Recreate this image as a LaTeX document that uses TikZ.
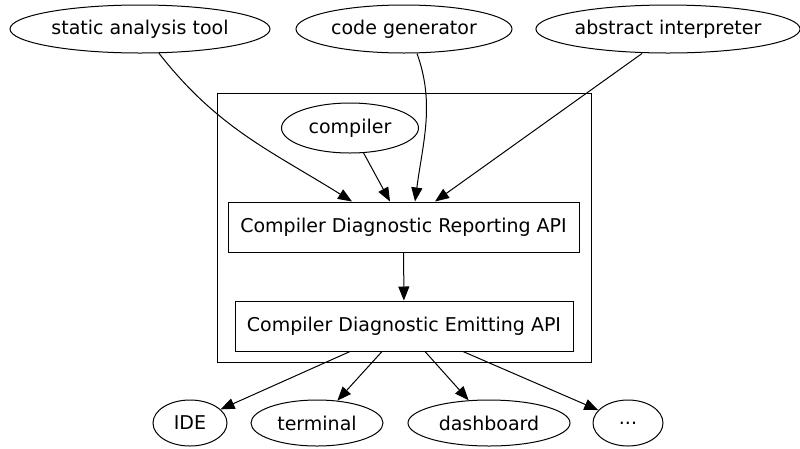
\documentclass[tikz,border=0pt]{standalone}
\usepackage{fontspec}
\setmainfont{DejaVu Sans}
\usetikzlibrary{arrows.meta,shapes.geometric}
\tikzset{
  oval/.style={draw, ellipse, inner sep=0pt, line width=1pt, font=\fontsize{19}{22}\selectfont},
  apibox/.style={draw, rectangle, inner sep=0pt, line width=1pt, font=\fontsize{19}{22}\selectfont},
  cluster/.style={draw, line width=1pt},
  edge/.style={line width=1pt, -{Triangle[length=14pt,width=11pt]}},
}
\begin{document}
\begin{tikzpicture}[x=1pt,y=-1pt]
\useasboundingbox (0,0) rectangle (800,448);
% enclosing cluster
\draw[cluster] (217,93) rectangle (591,362);
% sources
\node[oval, minimum width=260, minimum height=48] (sat) at (140,29) {static analysis tool};
\node[oval, minimum width=216, minimum height=48] (cg) at (404,29) {code generator};
\node[oval, minimum width=262, minimum height=48] (ai) at (668,29) {abstract interpreter};
\node[oval, minimum width=137, minimum height=50] (comp) at (350,128) {compiler};
% API boxes
\node[apibox, minimum width=351, minimum height=50] (rep) at (403.5,227) {Compiler Diagnostic Reporting API};
\node[apibox, minimum width=338, minimum height=50] (emit) at (404,326) {Compiler Diagnostic Emitting API};
% sinks
\node[oval, minimum width=74, minimum height=46] (ide) at (190,423) {IDE};
\node[oval, minimum width=132, minimum height=46] (term) at (317,423) {terminal};
\node[oval, minimum width=162, minimum height=46] (dash) at (489,423) {dashboard};
\node[oval, minimum width=70, minimum height=46] (more) at (628,423) {.{}.{}.};
% edges into the reporting API
\draw[edge] (sat) to[out=-52, in=148] ([xshift=-51.5pt]rep.north);
\draw[edge] (comp) -- ([xshift=-13.5pt]rep.north);
\draw[edge] ([xshift=13pt]cg.south) .. controls +(18,50) and +(8,-60) .. ([xshift=11.5pt]rep.north);
\draw[edge] ([xshift=-26pt]ai.south) -- ([xshift=31.5pt]rep.north);
% reporting to emitting
\draw[edge] (rep) -- (emit);
% emitting to sinks
\draw[edge] ([xshift=-54pt]emit.south) -- (ide);
\draw[edge] ([xshift=-22pt]emit.south) -- (term);
\draw[edge] ([xshift=21pt]emit.south) -- (dash);
\draw[edge] ([xshift=59pt]emit.south) -- (more);
\end{tikzpicture}
\end{document}
